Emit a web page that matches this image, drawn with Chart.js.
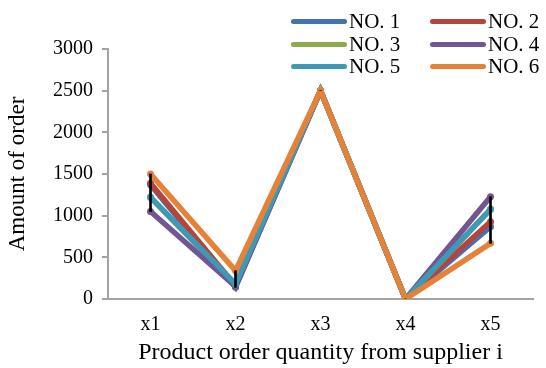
<!DOCTYPE html>
<html lang="en">
<head>
  <meta charset="UTF-8" />
  <title>Amount of order</title>
  <script src="https://cdn.jsdelivr.net/npm/chart.js"></script>
  <style>
    body {
      margin: 0;
      background: #fff;
    }
    .wrap {
      position: relative;
      width: 546px;
      height: 368px;
    }
    canvas {
      position: absolute;
      left: 0;
      top: 0;
    }
    .legend {
      position: absolute;
      left: 291px;
      top: 10px;
      display: grid;
      grid-template-columns: 139px 116px;
      grid-auto-rows: 22.7px;
      font-family: 'Liberation Serif', 'Times New Roman', serif;
      font-size: 21px;
      color: #000;
    }
    .legend .item {
      display: flex;
      align-items: center;
      white-space: nowrap;
    }
    .legend .swatch {
      width: 56px;
      height: 5px;
      border-radius: 3px;
      margin-right: 2px;
    }
  </style>
</head>
<body>
  <div class="wrap">
    <canvas id="orderChart" width="546" height="368"></canvas>
    <div class="legend" id="legend"></div>
  </div>

  <script>
    // categories and series
    const categories = ['x1', 'x2', 'x3', 'x4', 'x5'];
    const seriesNames = ['NO. 1', 'NO. 2', 'NO. 3', 'NO. 4', 'NO. 5', 'NO. 6'];
    const no1 = [1370, 140, 2500, 0, 868];
    const no2 = [1390, 160, 2500, 0, 928];
    const no3 = [1220, 170, 2500, 0, 1076];
    const no4 = [1050, 150, 2500, 0, 1228];
    const no5 = [1220, 180, 2500, 0, 1076];
    const no6 = [1500, 340, 2500, 0, 668];
    const yTicks = [0, 500, 1000, 1500, 2000, 2500, 3000];

    const seriesValues = [no1, no2, no3, no4, no5, no6];
    const colors = ['#4472b0', '#b5443f', '#8cac4b', '#735591', '#3c9ab4', '#e5823a'];

    // black min-max bar at each category
    const ranges = categories.map((c, i) => {
      const vals = seriesValues.map(s => s[i]);
      return [Math.min(...vals), Math.max(...vals)];
    });

    const serif = "'Liberation Serif', 'Times New Roman', serif";
    const axisGray = '#a3a3a3';

    const lineSets = seriesNames.map((name, i) => ({
      type: 'line',
      label: name,
      data: seriesValues[i],
      borderColor: colors[i],
      backgroundColor: colors[i],
      pointBackgroundColor: colors[i],
      pointBorderWidth: 0,
      pointRadius: 3.5,
      borderWidth: 5.5,
      borderCapStyle: 'round',
      tension: 0,
      order: seriesNames.length - i
    }));

    const chart = new Chart(document.getElementById('orderChart'), {
      data: {
        labels: categories,
        datasets: [
          ...lineSets,
          {
            type: 'bar',
            label: 'range',
            data: ranges,
            backgroundColor: '#000',
            barThickness: 2,
            order: 0
          }
        ]
      },
      options: {
        responsive: false,
        animation: false,
        devicePixelRatio: 1,
        layout: {
          padding: { top: 49, right: 13, left: 0, bottom: 0 }
        },
        plugins: {
          legend: { display: false },
          tooltip: { enabled: false }
        },
        scales: {
          x: {
            offset: true,
            grid: { display: false, drawTicks: false },
            border: { display: true, color: axisGray, width: 2 },
            ticks: {
              color: '#000',
              padding: 14,
              font: { family: serif, size: 20 }
            },
            title: {
              display: true,
              text: 'Product order quantity from supplier i',
              color: '#000',
              padding: { top: 0, bottom: 1 },
              font: { family: serif, size: 24 }
            },
            afterFit: s => { s.height = 69; }
          },
          y: {
            min: 0,
            max: 3000,
            afterBuildTicks: s => { s.ticks = yTicks.map(v => ({ value: v })); },
            grid: {
              drawOnChartArea: false,
              color: axisGray,
              lineWidth: 2,
              tickLength: 6
            },
            border: { display: true, color: axisGray, width: 2 },
            ticks: {
              color: '#000',
              padding: 9,
              font: { family: serif, size: 20 },
              callback: v => String(v)
            },
            title: {
              display: true,
              text: 'Amount of order',
              color: '#000',
              padding: { top: 4, bottom: 0 },
              font: { family: serif, size: 23 }
            },
            afterFit: s => { s.width = 108; }
          }
        }
      }
    });

    // two-column legend like the original
    const legendBox = document.getElementById('legend');
    seriesNames.forEach((name, i) => {
      const item = document.createElement('div');
      item.className = 'item';
      item.innerHTML = `<span class="swatch" style="background:${colors[i]}"></span><span>${name}</span>`;
      legendBox.appendChild(item);
    });
  </script>
</body>
</html>
